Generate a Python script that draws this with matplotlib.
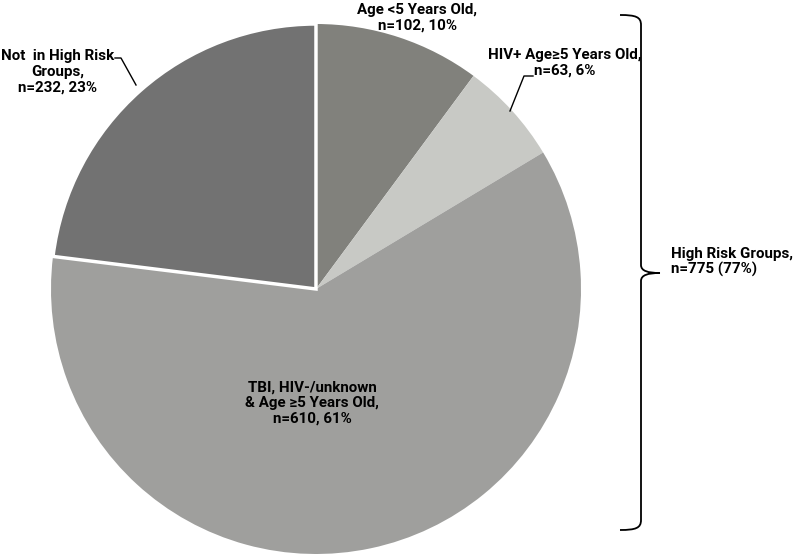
import matplotlib
matplotlib.use("Agg")
import matplotlib.pyplot as plt
from matplotlib.path import Path
from matplotlib.patches import PathPatch

W, H = 798, 554

groups = ["Age <5 Years Old,", "HIV+ Age\u22655 Years Old,",
          "TBI, HIV-/unknown\n& Age \u22655 Years Old,", "Not  in High Risk\nGroups,"]
counts = [102, 63, 610, 232]
pcts = [10, 6, 61, 23]
colors = ["#81817c", "#c8c9c5", "#9f9f9d", "#727272"]
explode = [0, 0, 0, 0.03]
high_risk_n = 775
high_risk_pct = 77

plt.rcParams['font.family'] = ['Roboto', 'DejaVu Sans']
plt.rcParams['font.weight'] = 'bold'

fig = plt.figure(figsize=(W / 100, H / 100), dpi=100)
ax = fig.add_axes([0, 0, 1, 1])

def py(y):
    # pixel row (from top) -> data y
    return H - y

wedges, _ = ax.pie(counts, colors=colors, startangle=90, counterclock=False,
                   center=(316, py(289)), radius=265, explode=explode,
                   wedgeprops=dict(linewidth=0))
wedges[3].set_edgecolor("white")
wedges[3].set_linewidth(2.5)

ax.set_xlim(0, W)
ax.set_ylim(0, H)
ax.set_aspect("equal")
ax.axis("off")

fs = 10.9
ls = 1.15
# Age <5
ax.text(417, py(18), f"{groups[0]}\nn={counts[0]}, {pcts[0]}%", ha="center", va="center",
        fontsize=fs, linespacing=ls)
# HIV+
ax.text(565, py(63), f"{groups[1]}\nn={counts[1]}, {pcts[1]}%", ha="center", va="center",
        fontsize=fs, linespacing=ls)
ax.plot([533, 524, 510], [py(76), py(76), py(111)], color="black", lw=1)
# TBI
ax.text(312, py(403), f"{groups[2]}\nn={counts[2]}, {pcts[2]}%", ha="center", va="center",
        fontsize=fs, linespacing=ls)
# Not in high risk
ax.text(58, py(72), f"{groups[3]}\nn={counts[3]}, {pcts[3]}%", ha="center", va="center",
        fontsize=fs, linespacing=ls)
ax.plot([115, 121, 136], [py(58), py(58), py(85)], color="black", lw=1)

# brace
x0, top, bot, mid, tipx = 641, 15, 530, 273, 660
verts = [
    (620, py(top)), (636, py(top)), (x0, py(top + 2)), (x0, py(top + 10)),
    (x0, py(mid - 8)),
    (x0, py(mid - 2)), (648, py(mid)), (tipx, py(mid)),
    (648, py(mid)), (x0, py(mid + 2)), (x0, py(mid + 8)),
    (x0, py(bot - 10)),
    (x0, py(bot - 2)), (636, py(bot)), (620, py(bot)),
]
codes = [Path.MOVETO, Path.CURVE4, Path.CURVE4, Path.CURVE4,
         Path.LINETO,
         Path.CURVE4, Path.CURVE4, Path.CURVE4,
         Path.CURVE4, Path.CURVE4, Path.CURVE4,
         Path.LINETO,
         Path.CURVE4, Path.CURVE4, Path.CURVE4]
ax.add_patch(PathPatch(Path(verts, codes), facecolor="none", edgecolor="black", lw=1.3))

ax.text(671, py(262), f"High Risk Groups,\nn={high_risk_n} ({high_risk_pct}%)", ha="left",
        va="center", fontsize=fs, linespacing=ls)

fig.savefig("out.png", dpi=100)
